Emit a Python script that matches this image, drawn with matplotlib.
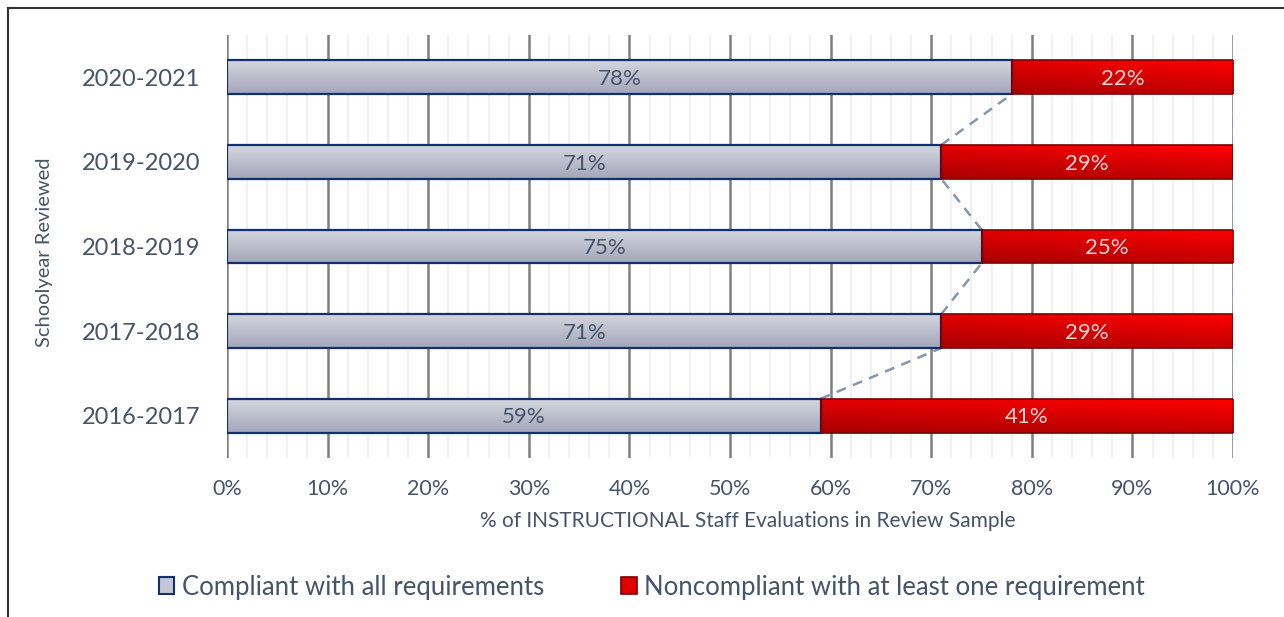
import matplotlib
matplotlib.use("Agg")
import matplotlib.pyplot as plt
import numpy as np
from matplotlib.lines import Line2D
from matplotlib.patches import Patch
from matplotlib.colors import LinearSegmentedColormap

years = ["2016-2017", "2017-2018", "2018-2019", "2019-2020", "2020-2021"]
compliant = [59, 71, 75, 71, 78]
noncompliant = [41, 29, 25, 29, 22]
legend_labels = ["Compliant with all requirements", "Noncompliant with at least one requirement"]
xlabel = "% of INSTRUCTIONAL Staff Evaluations in Review Sample"
ylabel = "Schoolyear Reviewed"

plt.rcParams['font.family'] = ['Lato', 'DejaVu Sans']
txt = "#44546a"

fig = plt.figure(figsize=(12.84, 6.17), dpi=100)
ax = fig.add_axes([227/1284, 1-458/617, (1233-227)/1284, (458-35)/617])

ypos = np.arange(len(years))
h = 0.4

ax.set_xlim(0, 100)
ax.set_ylim(-0.5, 4.5)
ax.set_xticks(np.arange(0, 101, 10))
ax.set_xticks(np.arange(0, 101, 2), minor=True)
ax.grid(True, which='minor', axis='x', color='#eeeff3', lw=1.2, zorder=0)
ax.grid(True, which='major', axis='x', color='#7f7f7f', lw=1.8, zorder=0.5)
ax.set_axisbelow(True)

cm_grey = LinearSegmentedColormap.from_list("g", ["#a3a6ba", "#d4d6de"])
cm_red = LinearSegmentedColormap.from_list("r", ["#a80000", "#ff0000"])

bars1 = ax.barh(ypos, compliant, height=h, color='none', edgecolor='#12306e', lw=1.6, zorder=3)
bars2 = ax.barh(ypos, noncompliant, left=compliant, height=h, color='none', edgecolor='#7a0000', lw=1.2, zorder=3)

grad = np.linspace(0, 1, 64).reshape(-1, 1)
diag = (np.linspace(0, 1, 64).reshape(-1, 1) * 0.7 + np.linspace(0, 1, 64).reshape(1, -1) * 0.3)
for b in bars1:
    x0, y0, w, hh = b.get_x(), b.get_y(), b.get_width(), b.get_height()
    im = ax.imshow(grad, cmap=cm_grey, extent=[x0, x0 + w, y0, y0 + hh], origin='lower',
                   aspect='auto', zorder=2, interpolation='bilinear')
    im.set_clip_path(b)
for b in bars2:
    x0, y0, w, hh = b.get_x(), b.get_y(), b.get_width(), b.get_height()
    im = ax.imshow(diag, cmap=cm_red, extent=[x0, x0 + w, y0, y0 + hh], origin='lower',
                   aspect='auto', zorder=2, interpolation='bilinear')
    im.set_clip_path(b)
ax.set_xlim(0, 100)
ax.set_ylim(-0.5, 4.5)

# series lines
for i in range(len(years) - 1):
    ax.plot([compliant[i], compliant[i + 1]], [ypos[i] + h/2, ypos[i + 1] - h/2],
            ls=(0, (4, 3)), color='#8497b0', lw=1.8, zorder=2.5)
    tot0 = compliant[i] + noncompliant[i]
    tot1 = compliant[i + 1] + noncompliant[i + 1]
    ax.plot([tot0, tot1], [ypos[i] + h/2, ypos[i + 1] - h/2],
            ls=(0, (4, 3)), color='#8497b0', lw=1.8, zorder=2.5)

# labels
for i in range(len(years)):
    ax.text(compliant[i] / 2, ypos[i] - 0.02, f"{compliant[i]}%", ha='center', va='center',
            color=txt, fontsize=16, zorder=4)
    ax.text(compliant[i] + noncompliant[i] / 2, ypos[i] - 0.02, f"{noncompliant[i]}%", ha='center',
            va='center', color='#fbd5d5', fontsize=16, zorder=4)

ax.set_yticks(ypos)
ax.set_yticklabels(years, fontsize=17, color=txt)
ax.set_xticklabels([f"{v}%" for v in range(0, 101, 10)], fontsize=15.5, color=txt)
ax.tick_params(axis='both', which='both', length=0)
ax.tick_params(axis='x', pad=15)
ax.tick_params(axis='y', pad=19.5)
for s in ax.spines.values():
    s.set_visible(False)

ax.set_xlabel(xlabel, fontsize=15, color=txt)
ax.xaxis.set_label_coords((748-227)/(1233-227), -(511-458)/(458-35))
fig.text(45/1284, 1-252/617, ylabel, rotation=90, ha='center', va='center', fontsize=14.5, color=txt)

handles = [Patch(facecolor='#c4c6d2', edgecolor='#12306e', lw=1.5),
           Patch(facecolor='#e00000', edgecolor='#7a0000', lw=1.2)]
fig.legend(handles, legend_labels, loc='center', bbox_to_anchor=(652/1284, 1-587/617),
           ncol=2, frameon=False, fontsize=18.5, labelcolor=txt, handlelength=0.6,
           handleheight=0.6, handletextpad=0.3, columnspacing=3.0)

fig.add_artist(Line2D([8/1284, 8/1284], [0, 1-8/617], color='#333333', lw=1.5))
fig.add_artist(Line2D([8/1284, 1], [1-8/617, 1-8/617], color='#333333', lw=1.5))

fig.savefig("out.png", dpi=100)
